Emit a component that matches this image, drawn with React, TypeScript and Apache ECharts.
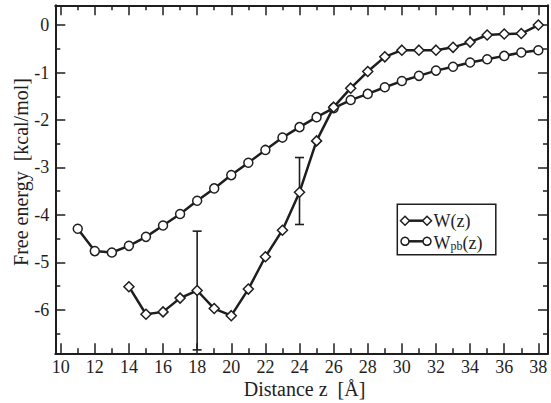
import React, { useEffect, useRef } from "react";
import * as echarts from "echarts";

// W(z) potential of mean force (diamonds)
const xW = [14, 15, 16, 17, 18, 19, 20, 21, 22, 23, 24, 25, 26, 27, 28, 29, 30, 31, 32, 33, 34, 35, 36, 37, 38];
const valW = [-5.51, -6.09, -6.04, -5.75, -5.59, -5.97, -6.12, -5.56, -4.88, -4.32, -3.52, -2.44, -1.73, -1.33, -0.98, -0.67, -0.53, -0.53, -0.53, -0.47, -0.36, -0.21, -0.19, -0.18, 0.0];

// Wpb(z) Poisson-Boltzmann (circles)
const xPb = [11, 12, 13, 14, 15, 16, 17, 18, 19, 20, 21, 22, 23, 24, 25, 26, 27, 28, 29, 30, 31, 32, 33, 34, 35, 36, 37, 38];
const valPb = [-4.29, -4.76, -4.79, -4.65, -4.46, -4.22, -3.98, -3.70, -3.44, -3.16, -2.90, -2.63, -2.37, -2.15, -1.94, -1.75, -1.58, -1.45, -1.31, -1.18, -1.07, -0.96, -0.88, -0.79, -0.72, -0.65, -0.58, -0.53];

// Error bars on W(z)
const errX = [18, 24];
const errLow = [-6.84, -4.2];
const errHigh = [-4.34, -2.79];

const seriesNames = ["W(z)", "Wpb(z)"];
const xTitle = "Distance z  [Å]";
const yTitle = "Free energy  [kcal/mol]";

const FONT_FAMILY = "Liberation Serif";
const FONT = "'Liberation Serif', serif";
const INK = "#1e1e1e";

export default function App() {
  const ref = useRef<HTMLDivElement>(null);
  useEffect(() => {
    if (!ref.current) return;
    const chart = echarts.init(ref.current, undefined, { renderer: "svg" });
    const xRange = { min: 9.685, max: 38.566 };
    const yRange = { min: -6.912, max: 0.415 };
    const axisLine = { show: true, onZero: false, lineStyle: { color: INK, width: 2 } };
    const tick = { show: true, inside: true, length: 10, lineStyle: { color: INK, width: 1.5 } };
    const minor = { show: true, splitNumber: 2, length: 5, lineStyle: { color: INK, width: 1.5 } };
    const lbl = (show: boolean, margin: number) => ({
      show,
      margin,
      color: INK,
      fontFamily: FONT_FAMILY,
      fontSize: 18,
      showMinLabel: true,
      showMaxLabel: true,
      formatter: (v: number) => (Math.abs(v - Math.round(v)) < 1e-6 ? String(Math.round(v)) : ""),
    });
    const xAxisBase = (pos: string, show: boolean) => ({
      type: "value",
      position: pos,
      min: xRange.min,
      max: xRange.max,
      minInterval: 2,
      maxInterval: 2,
      axisLine,
      axisTick: tick,
      minorTick: minor,
      splitLine: { show: false },
      axisLabel: lbl(show, 5),
    });
    const yAxisBase = (pos: string, show: boolean) => ({
      type: "value",
      position: pos,
      min: yRange.min,
      max: yRange.max,
      minInterval: 1,
      maxInterval: 1,
      axisLine,
      axisTick: tick,
      minorTick: minor,
      splitLine: { show: false },
      axisLabel: lbl(show, 6),
    });
    const legendX0 = 405;
    const legendX1 = 427;
    const ly1 = 220.7;
    const ly2 = 241.3;
    const diamond = (cx: number, cy: number) => ({
      type: "polygon",
      shape: { points: [[cx, cy - 4.5], [cx + 4.5, cy], [cx, cy + 4.5], [cx - 4.5, cy]] },
      style: { fill: "#fff", stroke: INK, lineWidth: 1.5 },
      z: 12,
    });
    const circ = (cx: number, cy: number) => ({
      type: "circle",
      shape: { cx, cy, r: 4 },
      style: { fill: "#fff", stroke: INK, lineWidth: 1.5 },
      z: 12,
    });
    chart.setOption({
      animation: false,
      backgroundColor: "#fff",
      grid: { left: 55.3, right: 1, top: 5.3, bottom: 49.7, containLabel: false },
      xAxis: [xAxisBase("bottom", true), xAxisBase("top", false)],
      yAxis: [yAxisBase("left", true), yAxisBase("right", false)],
      series: [
        {
          type: "custom",
          name: "error",
          xAxisIndex: 0,
          yAxisIndex: 0,
          z: 1,
          data: errX.map((x, i) => [x, errLow[i], errHigh[i]]),
          renderItem: (params: any, api: any) => {
            const x = api.value(0);
            const lo = api.coord([x, api.value(1)]);
            const hi = api.coord([x, api.value(2)]);
            const hw = 4.5;
            const st = { stroke: INK, lineWidth: 1.6 };
            return {
              type: "group",
              children: [
                { type: "line", shape: { x1: lo[0], y1: lo[1], x2: hi[0], y2: hi[1] }, style: st },
                { type: "line", shape: { x1: lo[0] - hw, y1: lo[1], x2: lo[0] + hw, y2: lo[1] }, style: st },
                { type: "line", shape: { x1: hi[0] - hw, y1: hi[1], x2: hi[0] + hw, y2: hi[1] }, style: st },
              ],
            };
          },
        },
        {
          type: "line",
          name: seriesNames[1],
          xAxisIndex: 0,
          yAxisIndex: 0,
          data: xPb.map((x, i) => [x, valPb[i]]),
          symbol: "circle",
          symbolSize: 9,
          showAllSymbol: true,
          lineStyle: { color: INK, width: 2.5 },
          itemStyle: { color: "#fff", borderColor: INK, borderWidth: 1.5 },
          z: 3,
        },
        {
          type: "line",
          name: seriesNames[0],
          xAxisIndex: 0,
          yAxisIndex: 0,
          data: xW.map((x, i) => [x, valW[i]]),
          symbol: "diamond",
          symbolSize: 10,
          showAllSymbol: true,
          lineStyle: { color: INK, width: 2.5 },
          itemStyle: { color: "#fff", borderColor: INK, borderWidth: 1.5 },
          z: 4,
        },
      ],
      graphic: [
        {
          type: "text",
          x: 304.5,
          y: 389,
          style: { text: xTitle, font: `20px ${FONT}`, fill: INK, align: "center", verticalAlign: "middle" },
        },
        {
          type: "text",
          x: 21,
          y: 172,
          rotation: Math.PI / 2,
          style: { text: yTitle, font: `20px ${FONT}`, fill: INK, align: "center", verticalAlign: "middle" },
        },
        {
          type: "rect",
          shape: { x: 397.3, y: 204.3, width: 98.5, height: 50.5 },
          style: { fill: "#fff", stroke: INK, lineWidth: 1.5 },
          z: 10,
        },
        {
          type: "line",
          shape: { x1: legendX0, y1: ly1, x2: legendX1, y2: ly1 },
          style: { stroke: INK, lineWidth: 2.5 },
          z: 11,
        },
        diamond(legendX0, ly1),
        diamond(legendX1, ly1),
        {
          type: "line",
          shape: { x1: legendX0, y1: ly2, x2: legendX1, y2: ly2 },
          style: { stroke: INK, lineWidth: 2.5 },
          z: 11,
        },
        circ(legendX0, ly2),
        circ(legendX1, ly2),
        {
          type: "text",
          x: 433.5,
          y: ly1,
          z: 12,
          style: { text: seriesNames[0], font: `18px ${FONT}`, fill: INK, align: "left", verticalAlign: "middle" },
        },
        {
          type: "text",
          x: 433.5,
          y: ly2,
          z: 12,
          style: {
            text: "{a|W}{s|pb}{a|(z)}",
            fill: INK,
            align: "left",
            verticalAlign: "middle",
            rich: {
              a: { fontFamily: FONT_FAMILY, fontSize: 18, lineHeight: 22, fill: INK, color: INK, verticalAlign: "bottom" },
              s: { fontFamily: FONT_FAMILY, fontSize: 12, lineHeight: 12, fill: INK, color: INK, verticalAlign: "bottom" },
            },
          },
        },
      ],
    });
    return () => chart.dispose();
  }, []);
  return <div ref={ref} style={{ position: "absolute", left: 0, top: 0, width: 551, height: 403 }} />;
}
